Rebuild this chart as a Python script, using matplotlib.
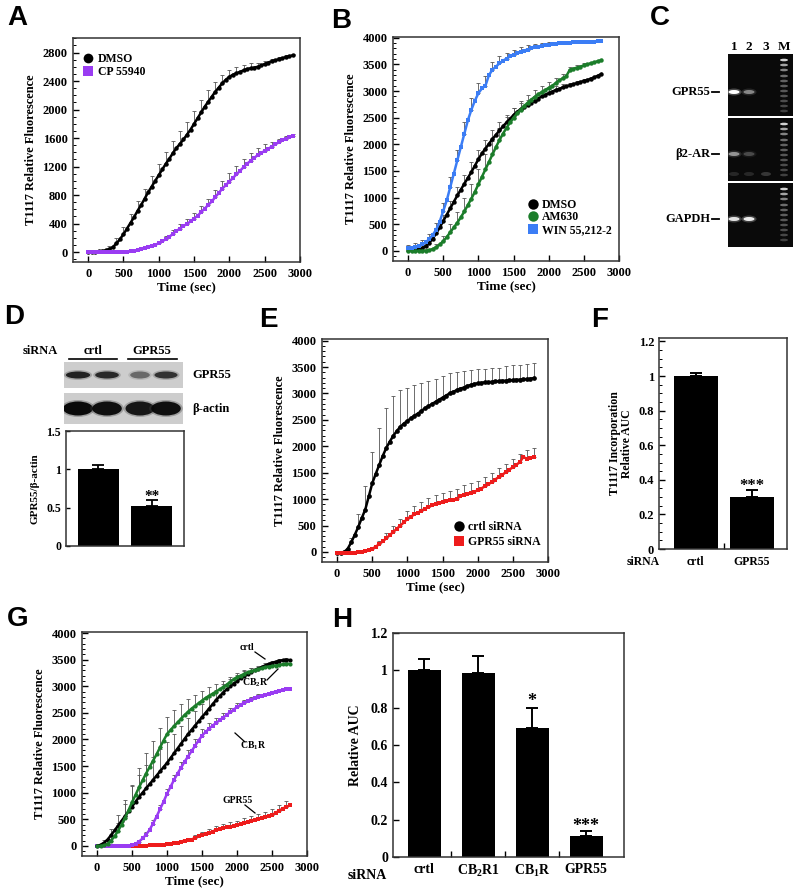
import numpy as np
import matplotlib
matplotlib.use("Agg")
import matplotlib.pyplot as plt
from matplotlib.patches import Ellipse
from matplotlib.lines import Line2D
from matplotlib.ticker import MultipleLocator, FixedLocator

plt.rcParams['font.family'] = ['Liberation Serif', 'DejaVu Serif']
plt.rcParams['font.weight'] = 'bold'
plt.rcParams['axes.labelweight'] = 'bold'
plt.rcParams['mathtext.fontset'] = 'custom'
plt.rcParams['mathtext.rm'] = 'Liberation Serif:bold'
plt.rcParams['mathtext.it'] = 'Liberation Serif:bold'
plt.rcParams['mathtext.bf'] = 'Liberation Serif:bold'
plt.rcParams['axes.linewidth'] = 1.1
plt.rcParams['axes.edgecolor'] = '#333333'

# ---------------- data ----------------
# A: T1117 uptake, DMSO vs CP 55940 (every 50 s, errors every 100 s)
t_A = np.arange(0, 2901, 50)
A_dmso = [0, 0, 5, 10, 15, 25, 40, 70, 120, 180,
          250, 330, 410, 490, 580, 660, 750, 840, 920, 1000,
          1080, 1160, 1240, 1310, 1390, 1460, 1520, 1580, 1650, 1720,
          1800, 1880, 1960, 2040, 2110, 2180, 2250, 2310, 2370, 2420,
          2460, 2490, 2510, 2530, 2550, 2570, 2580, 2590, 2600, 2620,
          2640, 2660, 2680, 2690, 2710, 2720, 2740, 2750, 2760]
A_cp = [0, 0, 0, 0, 0, 0, 0, 0, 0, 0,
        0, 5, 10, 20, 30, 45, 60, 75, 90, 105,
        120, 150, 180, 215, 255, 295, 330, 365, 395, 430,
        470, 510, 560, 610, 660, 710, 770, 830, 890, 940,
        990, 1040, 1090, 1140, 1190, 1240, 1280, 1320, 1360, 1390,
        1420, 1450, 1480, 1510, 1540, 1570, 1590, 1610, 1630]
A_dmso_err = [0, 5, 10, 40, 80, 100, 120, 130, 140, 150,
              150, 160, 170, 180, 180, 180, 170, 160, 140, 120,
              100, 90, 80, 70, 50, 40, 30, 30, 20, 20]
A_cp_err = [0, 0, 0, 0, 0, 0, 10, 10, 20, 20,
            30, 40, 50, 60, 70, 80, 80, 90, 100, 110,
            120, 120, 120, 110, 100, 90, 70, 50, 40, 30]

# B: DMSO, AM630, WIN 55,212-2
t_B = np.arange(0, 2751, 50)
B_dmso = [30, 25, 25, 30, 50, 90, 150, 230, 330, 440,
          560, 680, 800, 920, 1040, 1150, 1260, 1370, 1480, 1600,
          1720, 1830, 1920, 2010, 2100, 2180, 2260, 2340, 2410, 2480,
          2550, 2610, 2660, 2700, 2740, 2780, 2820, 2860, 2900, 2930,
          2960, 2990, 3020, 3040, 3070, 3090, 3110, 3130, 3150, 3170,
          3190, 3210, 3230, 3260, 3290, 3320]
B_am630 = [0, 0, 0, 0, 0, 5, 15, 35, 70, 120,
           180, 260, 350, 440, 530, 630, 740, 860, 980, 1110,
           1250, 1390, 1530, 1670, 1810, 1950, 2080, 2200, 2310, 2410,
           2500, 2580, 2650, 2720, 2780, 2840, 2890, 2940, 2980, 3020,
           3060, 3100, 3150, 3200, 3240, 3280, 3400, 3420, 3440, 3460,
           3480, 3500, 3520, 3540, 3560, 3580]
B_win = [50, 60, 70, 90, 120, 160, 220, 300, 400, 550,
         750, 950, 1200, 1450, 1700, 1950, 2200, 2450, 2650, 2820,
         2960, 3050, 3100, 3300, 3400, 3460, 3520, 3570, 3610, 3650,
         3680, 3710, 3740, 3760, 3780, 3800, 3820, 3830, 3850, 3860,
         3870, 3880, 3890, 3895, 3900, 3905, 3910, 3915, 3920, 3920,
         3925, 3925, 3930, 3930, 3935, 3935]
B_dmso_err = [60, 60, 60, 70, 100, 120, 140, 160, 170, 180,
              180, 170, 160, 150, 140, 130, 120, 100, 90, 80,
              80, 70, 60, 50, 40, 30, 30, 20]
B_am630_err = [0, 0, 0, 20, 60, 100, 150, 200, 250, 280,
               290, 280, 250, 220, 200, 180, 160, 150, 130, 120,
               110, 100, 80, 60, 50, 40, 30, 30]
B_win_err = [60, 70, 80, 100, 120, 150, 180, 200, 220, 220,
             200, 180, 150, 130, 110, 100, 90, 80, 70, 60,
             50, 40, 40, 30, 30, 20, 20, 20]

# C: RT-PCR band intensities, lanes 1-3 (M = ladder)
lanes_C = ['1', '2', '3', 'M']
gel_genes = ['GPR55', 'β2-AR', 'GAPDH']
gel_bands = [[1.0, 0.45, 0.0],
             [0.5, 0.22, 0.0],
             [0.85, 0.9, 0.0]]
primer_dimer = [0.12, 0.12, 0.18]
ladder = [0.9, 0.7, 0.55, 0.45, 0.4, 0.38, 0.35, 0.33, 0.3, 0.28, 0.25]

# D: western blot + quantification
blot_gpr55 = [0.85, 0.8, 0.45, 0.75]
blot_actin = [1.0, 0.97, 0.92, 0.97]
D_groups = ['crtl', 'GPR55']
D_vals = [1.0, 0.52]
D_err = [0.06, 0.085]

# E: crtl siRNA vs GPR55 siRNA
t_E = np.arange(0, 2801, 50)
E_crtl = [-20, -20, 0, 60, 180, 320, 470, 640, 800, 1050,
          1300, 1480, 1650, 1820, 1970, 2090, 2200, 2290, 2370, 2430,
          2480, 2530, 2580, 2620, 2670, 2720, 2760, 2800, 2840, 2880,
          2920, 2960, 3000, 3030, 3060, 3090, 3110, 3140, 3160, 3180,
          3190, 3200, 3210, 3210, 3220, 3230, 3230, 3240, 3240, 3250,
          3250, 3260, 3260, 3270, 3270, 3280, 3290]
E_gpr55 = [-20, -20, -20, -20, -20, -15, -10, 0, 10, 30,
           60, 100, 150, 200, 260, 320, 380, 440, 500, 560,
           630, 670, 710, 745, 780, 820, 850, 880, 905, 925,
           945, 960, 975, 990, 1005, 1050, 1080, 1100, 1120, 1140,
           1165, 1200, 1240, 1280, 1320, 1370, 1420, 1460, 1510, 1560,
           1600, 1650, 1700, 1800, 1760, 1780, 1800]
E_crtl_err = [0, 10, 80, 250, 450, 600, 700, 750, 760, 700,
              620, 580, 530, 480, 440, 410, 380, 340, 310, 290,
              270, 260, 260, 260, 270, 280, 280, 290, 295]
E_gpr55_err = [0, 0, 0, 0, 10, 30, 60, 90, 110, 130,
               150, 160, 170, 170, 180, 180, 180, 180, 180, 180,
               180, 170, 170, 170, 160, 160, 160, 160, 160]

# F: relative AUC
F_groups = ['crtl', 'GPR55']
F_vals = [1.0, 0.30]
F_err = [0.02, 0.04]

# G: siRNA knockdown kinetics
t_G = np.arange(0, 2751, 50)
G_crtl = [0, 20, 60, 120, 200, 290, 380, 470, 560, 650,
          740, 830, 920, 1000, 1080, 1160, 1240, 1320, 1400, 1480,
          1560, 1650, 1740, 1830, 1920, 2010, 2100, 2180, 2260, 2340,
          2420, 2500, 2580, 2660, 2740, 2810, 2880, 2940, 3000, 3050,
          3100, 3150, 3190, 3230, 3270, 3300, 3330, 3360, 3390, 3420,
          3440, 3460, 3480, 3490, 3500, 3490]
G_cb2 = [0, 0, 10, 40, 100, 180, 280, 400, 530, 670,
         820, 960, 1100, 1230, 1360, 1480, 1600, 1720, 1850, 1980,
         2100, 2180, 2250, 2320, 2390, 2460, 2520, 2580, 2630, 2680,
         2730, 2780, 2820, 2860, 2900, 2940, 2980, 3030, 3080, 3130,
         3170, 3200, 3230, 3260, 3280, 3300, 3320, 3340, 3360, 3370,
         3380, 3390, 3400, 3410, 3420, 3420]
G_cb1 = [0, 0, 0, 0, 0, 0, 0, 0, 0, 5,
         15, 40, 80, 140, 210, 300, 420, 550, 690, 830,
         980, 1110, 1240, 1360, 1470, 1580, 1680, 1780, 1880, 1980,
         2070, 2140, 2200, 2260, 2310, 2360, 2410, 2460, 2510, 2560,
         2610, 2650, 2690, 2720, 2750, 2780, 2800, 2820, 2840, 2860,
         2880, 2900, 2910, 2930, 2940, 2950]
G_gpr55 = [0, 0, 0, 0, 0, 0, 0, 0, 0, 0,
           0, 0, 0, 5, 5, 10, 15, 20, 20, 25,
           30, 40, 50, 60, 80, 100, 110, 120, 150, 180,
           200, 230, 250, 270, 300, 320, 340, 350, 360, 380,
           390, 410, 430, 450, 470, 480, 500, 520, 540, 560,
           580, 620, 660, 700, 730, 760]
G_crtl_err = [20, 60, 120, 200, 300, 380, 420, 440, 440, 420,
              400, 370, 340, 310, 280, 250, 220, 190, 160, 130,
              110, 90, 70, 60, 50, 40, 40, 40]
G_cb2_err = [20, 40, 80, 150, 250, 320, 360, 380, 380, 360,
             330, 300, 270, 240, 210, 180, 160, 140, 120, 100,
             80, 70, 60, 50, 40, 40, 30, 30]
G_cb1_err = [0, 0, 0, 0, 0, 10, 30, 50, 70, 80,
             90, 100, 110, 120, 120, 120, 110, 100, 90, 80,
             70, 60, 50, 50, 40, 40, 30, 30]
G_gpr55_err = [0, 0, 0, 0, 0, 0, 0, 10, 10, 10,
               20, 20, 30, 40, 50, 60, 60, 70, 70, 80,
               80, 90, 90, 100, 100, 110, 110, 120]

# H: relative AUC after knockdown
H_groups = ['crtl', 'CB$_2$R1', 'CB$_1$R', 'GPR55']
H_vals = [1.0, 0.985, 0.69, 0.11]
H_err = [0.06, 0.09, 0.11, 0.03]

BLACK = '#000000'
PURPLE = '#9a3cf2'
GREEN = '#1b7d2a'
BLUE = '#3b7df5'
RED = '#ee1c1c'

W, H = 800, 896
fig = plt.figure(figsize=(8, 8.96), dpi=100)


def box(x0, y0, x1, y1):
    # axes placed by pixel corners (top-left origin)
    return fig.add_axes([x0 / W, 1 - y1 / H, (x1 - x0) / W, (y1 - y0) / H])


def fpt(x, y):
    return x / W, 1 - y / H


def hline(xa, xb, y, lw=1.2):
    fig.add_artist(Line2D([xa / W, xb / W], [1 - y / H] * 2, color='black', lw=lw))


def panel_letter(x, y, s):
    fig.text(*fpt(x, y), s, fontsize=20, fontweight='bold', family='Liberation Sans',
             ha='center', va='center')


def kinetic_axes(ax, ylim, ymajor, yminor):
    ax.set_xlim(-215, 3000)
    ax.set_ylim(*ylim)
    ax.xaxis.set_major_locator(MultipleLocator(500))
    ax.yaxis.set_major_locator(MultipleLocator(ymajor))
    ax.yaxis.set_minor_locator(MultipleLocator(yminor))
    ax.tick_params(direction='in', labelsize=9, length=4, width=1, pad=4)
    ax.tick_params(which='minor', direction='in', length=2, width=0.7)
    ax.set_xlabel('Time (sec)', fontsize=9.5, labelpad=1)
    ax.set_ylabel('T1117 Relative Fluorescence', fontsize=9, labelpad=4)


def draw_series(ax, t, y, err, color, marker, ms):
    y = np.asarray(y, float)
    err = np.asarray(err, float)
    ax.errorbar(t[::2], y[::2], yerr=[np.zeros_like(err), err], fmt='none',
                ecolor='#555555', elinewidth=0.6, capsize=1.3, capthick=0.6, zorder=2)
    ax.plot(t, y, ls='-', lw=1.8, marker=marker, ms=ms, color=color, mew=0, zorder=3)


def handles(specs):
    return [Line2D([], [], ls='none', marker=m, ms=s, color=c, mew=0) for c, m, s in specs]


# ---------------- A ----------------
axA = box(73, 38, 300, 262)
draw_series(axA, t_A, A_dmso, A_dmso_err, BLACK, 'o', 3.2)
draw_series(axA, t_A, A_cp, A_cp_err, PURPLE, 's', 3.0)
kinetic_axes(axA, (-140, 3005), 400, 100)
axA.legend(handles([(BLACK, 'o', 7), (PURPLE, 's', 6.5)]), ['DMSO', 'CP 55940'],
           loc='upper left', bbox_to_anchor=(0.0, 0.97), frameon=False, fontsize=8.5,
           handletextpad=0.2, labelspacing=0.1, handlelength=1.2, borderaxespad=0.3)
panel_letter(17, 18, 'A')

# ---------------- B ----------------
axB = box(393, 37, 619, 261)
draw_series(axB, t_B, B_dmso, B_dmso_err, BLACK, 'o', 3.2)
draw_series(axB, t_B, B_am630, B_am630_err, GREEN, 'o', 3.2)
draw_series(axB, t_B, B_win, B_win_err, BLUE, 's', 3.0)
kinetic_axes(axB, (-190, 4015), 500, 100)
axB.legend(handles([(BLACK, 'o', 7.5), (GREEN, 'o', 7.5), (BLUE, 's', 6.5)]),
           ['DMSO', 'AM630', 'WIN 55,212-2'], loc='lower right', bbox_to_anchor=(1.0, 0.08),
           frameon=False, fontsize=8.5, handletextpad=0.2, labelspacing=0.05,
           handlelength=1.2, borderaxespad=0.2)
panel_letter(341, 21, 'B')

# ---------------- C ----------------
lane_x = [6, 21, 38, 56]
strips = [(54, 116), (118, 181), (183, 247)]
band_row = [38, 36, 36]
ladder_rows = [6, 11, 16, 22, 27, 32, 37, 42, 47, 52, 57]
for (y0, y1), vals, row, gene in zip(strips, gel_bands, band_row, gel_genes):
    ax = box(728, y0, 793, y1)
    ax.set_facecolor('#0a0a0a')
    ax.set_xlim(0, 65)
    ax.set_ylim(y1 - y0, 0)
    ax.set_xticks([])
    ax.set_yticks([])
    for s in ax.spines.values():
        s.set_visible(False)
    for x, v in zip(lane_x[:3], vals):
        if v > 0:
            ax.add_patch(Ellipse((x, row), 15, 7, color='white', alpha=0.25 * v, lw=0))
            ax.add_patch(Ellipse((x, row), 11, 4, color='white', alpha=v, lw=0))
    if gene == 'β2-AR':
        for x, v in zip(lane_x[:3], primer_dimer):
            ax.add_patch(Ellipse((x, 56), 10, 4, color='white', alpha=v, lw=0))
    for r, v in zip(ladder_rows, ladder):
        ax.add_patch(Ellipse((lane_x[3], r), 8, 2.6, color='#e8e8e8', alpha=v, lw=0))
    fig.text(*fpt(710, y0 + row), gene, fontsize=9, ha='right', va='center')
    hline(712, 719, y0 + row, lw=1.3)
for x, s in zip(lane_x, lanes_C):
    fig.text(*fpt(728 + x, 47), s, fontsize=9.5, ha='center', va='center')
panel_letter(660, 18, 'C')

# ---------------- D ----------------
blot_x = [78, 107, 140, 166]
for (y0, y1), vals, wmax, hgt, name in [((362, 388), blot_gpr55, 26, 7, 'GPR55'),
                                        ((393, 424), blot_actin, 30, 14, 'β-actin')]:
    ax = box(64, y0, 183, y1)
    ax.set_facecolor('#cdcdcd')
    ax.set_xlim(64, 183)
    ax.set_ylim(y1, y0)
    ax.set_xticks([])
    ax.set_yticks([])
    for s in ax.spines.values():
        s.set_visible(False)
    mid = (y0 + y1) / 2
    for x, v in zip(blot_x, vals):
        ax.add_patch(Ellipse((x, mid), wmax * (0.55 + 0.45 * v) + 4, hgt + 3, color='#444444',
                             alpha=0.35 * v, lw=0))
        ax.add_patch(Ellipse((x, mid), wmax * (0.55 + 0.45 * v), hgt, color='#0a0a0a',
                             alpha=v, lw=0))
    fig.text(*fpt(192, mid), name, fontsize=9, ha='left', va='center')
fig.text(*fpt(23, 351), 'siRNA', fontsize=9, ha='left', va='center')
fig.text(*fpt(93, 351), D_groups[0], fontsize=9, ha='center', va='center')
fig.text(*fpt(152, 351), D_groups[1], fontsize=9, ha='center', va='center')
hline(69, 117, 359)
hline(128, 177, 359)

axD = box(66, 431, 184, 546)
xD = np.arange(1, len(D_vals) + 1)
axD.bar(xD, D_vals, width=0.76, color='black')
axD.errorbar(xD, D_vals, yerr=[np.zeros(len(D_err)), D_err], fmt='none', ecolor='black',
             elinewidth=1.3, capsize=4, capthick=1.3)
axD.set_xlim(0.4, 2.6)
axD.set_ylim(0, 1.5)
axD.set_yticks([0, 0.5, 1, 1.5])
axD.set_yticklabels(['0', '0.5', '1', '1.5'])
axD.set_xticks([])
axD.tick_params(direction='in', labelsize=8.5, length=3, width=1)
axD.set_ylabel('GPR55/β-actin', fontsize=8, labelpad=5)
axD.text(xD[1], D_vals[1] + D_err[1], '**', fontsize=11, ha='center', va='baseline')
panel_letter(14, 317, 'D')

# ---------------- E ----------------
axE = box(322, 339, 548, 562)
draw_series(axE, t_E, E_crtl, E_crtl_err, BLACK, 'o', 3.4)
draw_series(axE, t_E, E_gpr55, E_gpr55_err, RED, 's', 3.2)
kinetic_axes(axE, (-190, 4030), 500, 100)
axE.legend(handles([(BLACK, 'o', 7.5), (RED, 's', 6.5)]), ['crtl siRNA', 'GPR55 siRNA'],
           loc='lower right', bbox_to_anchor=(1.0, 0.03), frameon=False, fontsize=8.5,
           handletextpad=0.2, labelspacing=0.3, handlelength=1.2, borderaxespad=0.2)
panel_letter(268, 320, 'E')

# ---------------- F ----------------
axF = box(659, 338, 787, 549)
xF = np.arange(1, len(F_vals) + 1)
axF.bar(xF, F_vals, width=0.79, color='black')
axF.errorbar(xF, F_vals, yerr=[np.zeros(len(F_err)), F_err], fmt='none', ecolor='black',
             elinewidth=1.4, capsize=4, capthick=1.4)
axF.set_xlim(0.34, 2.63)
axF.set_ylim(0, 1.22)
axF.set_yticks(np.arange(0, 1.21, 0.2))
axF.set_yticklabels(['0', '0.2', '0.4', '0.6', '0.8', '1', '1.2'])
axF.yaxis.set_minor_locator(MultipleLocator(0.05))
axF.set_xticks(xF)
axF.set_xticklabels(F_groups)
axF.xaxis.set_minor_locator(FixedLocator([1.5]))
axF.tick_params(axis='y', direction='in', labelsize=9, length=4, width=1)
axF.tick_params(axis='y', which='minor', direction='in', length=2, width=0.7)
axF.tick_params(axis='x', length=0, labelsize=8.5, pad=5)
axF.tick_params(axis='x', which='minor', direction='in', length=4, width=1)
axF.set_ylabel('T1117 Incorporation\nRelative AUC', fontsize=8.5, labelpad=4, linespacing=1.0)
axF.text(xF[1], F_vals[1] + F_err[1], '***', fontsize=12, ha='center', va='baseline')
fig.text(*fpt(643, 562), 'siRNA', fontsize=8.5, ha='center', va='center')
panel_letter(600, 320, 'F')

# ---------------- G ----------------
axG = box(82, 632, 307, 856)
draw_series(axG, t_G, G_gpr55, G_gpr55_err, RED, 's', 3.0)
draw_series(axG, t_G, G_cb1, G_cb1_err, PURPLE, 's', 3.0)
draw_series(axG, t_G, G_crtl, G_crtl_err, BLACK, 'o', 3.0)
draw_series(axG, t_G, G_cb2, G_cb2_err, GREEN, 'o', 3.0)
kinetic_axes(axG, (-190, 4020), 500, 100)
for label, (tx, ty), (ax0, ay0, ax1, ay1) in [
        ('crtl', (247, 647), (255, 652, 265, 659)),
        ('CB$_2$R', (255, 683), (267, 680, 278, 669)),
        ('CB$_1$R', (253, 746), (235, 733, 245, 742)),
        ('GPR55', (238, 800), (245, 805, 255, 813))]:
    fig.text(*fpt(tx, ty), label, fontsize=7, ha='center', va='center')
    fig.add_artist(Line2D([ax0 / W, ax1 / W], [1 - ay0 / H, 1 - ay1 / H], color='black', lw=0.9))
panel_letter(18, 619, 'G')

# ---------------- H ----------------
axH = box(393, 633, 624, 857)
xH = np.arange(1, len(H_vals) + 1)
axH.bar(xH, H_vals, width=0.61, color='black')
axH.errorbar(xH, H_vals, yerr=[np.zeros(len(H_err)), H_err], fmt='none', ecolor='black',
             elinewidth=1.4, capsize=4.5, capthick=1.4)
axH.set_xlim(0.42, 4.70)
axH.set_ylim(0, 1.2)
axH.set_yticks(np.arange(0, 1.21, 0.2))
axH.set_yticklabels(['0', '0.2', '0.4', '0.6', '0.8', '1', '1.2'])
axH.set_xticks(xH)
axH.set_xticklabels(H_groups)
axH.xaxis.set_minor_locator(FixedLocator([1.5, 2.5, 3.5]))
axH.tick_params(axis='y', direction='in', labelsize=10, length=4, width=1)
axH.tick_params(axis='x', length=0, labelsize=10, pad=4)
axH.tick_params(axis='x', which='minor', direction='in', length=4, width=1)
axH.set_ylabel('Relative AUC', fontsize=10, labelpad=6)
axH.text(xH[2], H_vals[2] + H_err[2] + 0.01, '*', fontsize=13, ha='center', va='baseline')
axH.text(xH[3], H_vals[3] + H_err[3], '***', fontsize=13, ha='center', va='baseline')
fig.text(*fpt(367, 875), 'siRNA', fontsize=10, ha='center', va='center')
panel_letter(342, 620, 'H')

fig.savefig('out.png', dpi=100, facecolor='white')
